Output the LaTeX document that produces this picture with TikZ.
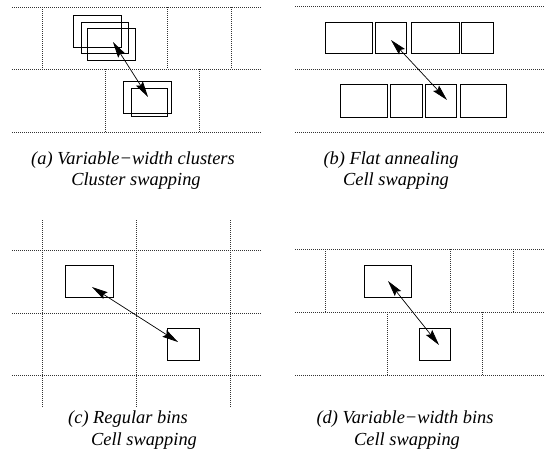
\documentclass[tikz,border=0pt]{standalone}
\usepackage{fontspec}
\setmainfont{Liberation Serif}[ItalicFont={Liberation Serif Italic}]
\usetikzlibrary{arrows.meta}
\tikzset{
  grid/.style={line width=0.7pt, dash pattern=on 1pt off 1pt, black!80},
  cellbox/.style={draw, line width=1pt},
  swaptip/.tip={Stealth[length=16pt,width=8pt,inset=2.5pt]},
  swap/.style={line width=0.7pt, swaptip-swaptip},
  captext/.style={font=\fontsize{18.4}{22}\selectfont\itshape, inner sep=0pt}
}
\begin{document}
\begin{tikzpicture}[x=1pt,y=-1pt]
\useasboundingbox (0,0) rectangle (546,464);
% ---------- (a)
\draw[grid] (12,7) -- (262,7) (12,69) -- (262,69) (12,132) -- (262,132);
\draw[grid] (42,7) -- (42,69) (167,7) -- (167,69) (231,7) -- (231,69);
\draw[grid] (105,69) -- (105,132) (199,69) -- (199,132);
\draw[cellbox] (73,15) rectangle (121,47);
\draw[cellbox] (81,22) rectangle (128,53);
\draw[cellbox] (87,28) rectangle (135,60);
\draw[cellbox] (123,81) rectangle (171,113);
\draw[cellbox] (131,88) rectangle (167,116);
\coordinate (a1) at (113,42);
\coordinate (a2) at (148,97);
\draw[swap] (a1) -- (a2);
\node[captext] (ca1) at (133,160) {(a) Variable−width clusters};
\node[captext] (ca2) at (136,181) {Cluster swapping};
% ---------- (b)
\draw[grid] (295,6) -- (545,6) (295,69) -- (545,69) (295,132) -- (545,132);
\draw[cellbox] (325,22) rectangle (372,53);
\draw[cellbox] (375,22) rectangle (406,53);
\draw[cellbox] (411,22) rectangle (459,53);
\draw[cellbox] (461,22) rectangle (493,53);
\draw[cellbox] (340,84) rectangle (387,117);
\draw[cellbox] (390,84) rectangle (422,117);
\draw[cellbox] (425,84) rectangle (456,117);
\draw[cellbox] (460,84) rectangle (506,117);
\coordinate (b1) at (391,40);
\coordinate (b2) at (447,100);
\draw[swap] (b1) -- (b2);
\node[captext] (cb1) at (391,160) {(b) Flat annealing};
\node[captext] (cb2) at (396,181) {Cell swapping};
% ---------- (c)
\draw[grid] (12,250) -- (262,250) (12,313) -- (262,313) (12,375) -- (262,375);
\draw[grid] (42,220) -- (42,407) (136,220) -- (136,407) (230,220) -- (230,407);
\draw[cellbox] (65,265) rectangle (113,297);
\draw[cellbox] (167,328) rectangle (199,360);
\coordinate (c1) at (92,287);
\coordinate (c2) at (178,342);
\draw[swap] (c1) -- (c2);
\node[captext] (cc1) at (128,419) {(c) Regular bins};
\node[captext] (cc2) at (144,441) {Cell swapping};
% ---------- (d)
\draw[grid] (295,249) -- (545,249) (295,312) -- (545,312) (295,375) -- (545,375);
\draw[grid] (325,249) -- (325,312) (450,249) -- (450,312) (513,249) -- (513,312);
\draw[grid] (387,312) -- (387,375) (482,312) -- (482,375);
\draw[cellbox] (364,265) rectangle (411,297);
\draw[cellbox] (419,328) rectangle (450,360);
\coordinate (d1) at (388,281);
\coordinate (d2) at (439,345);
\draw[swap] (d1) -- (d2);
\node[captext] (cd1) at (405,419) {(d) Variable−width bins};
\node[captext] (cd2) at (407,441) {Cell swapping};
\end{tikzpicture}
\end{document}
